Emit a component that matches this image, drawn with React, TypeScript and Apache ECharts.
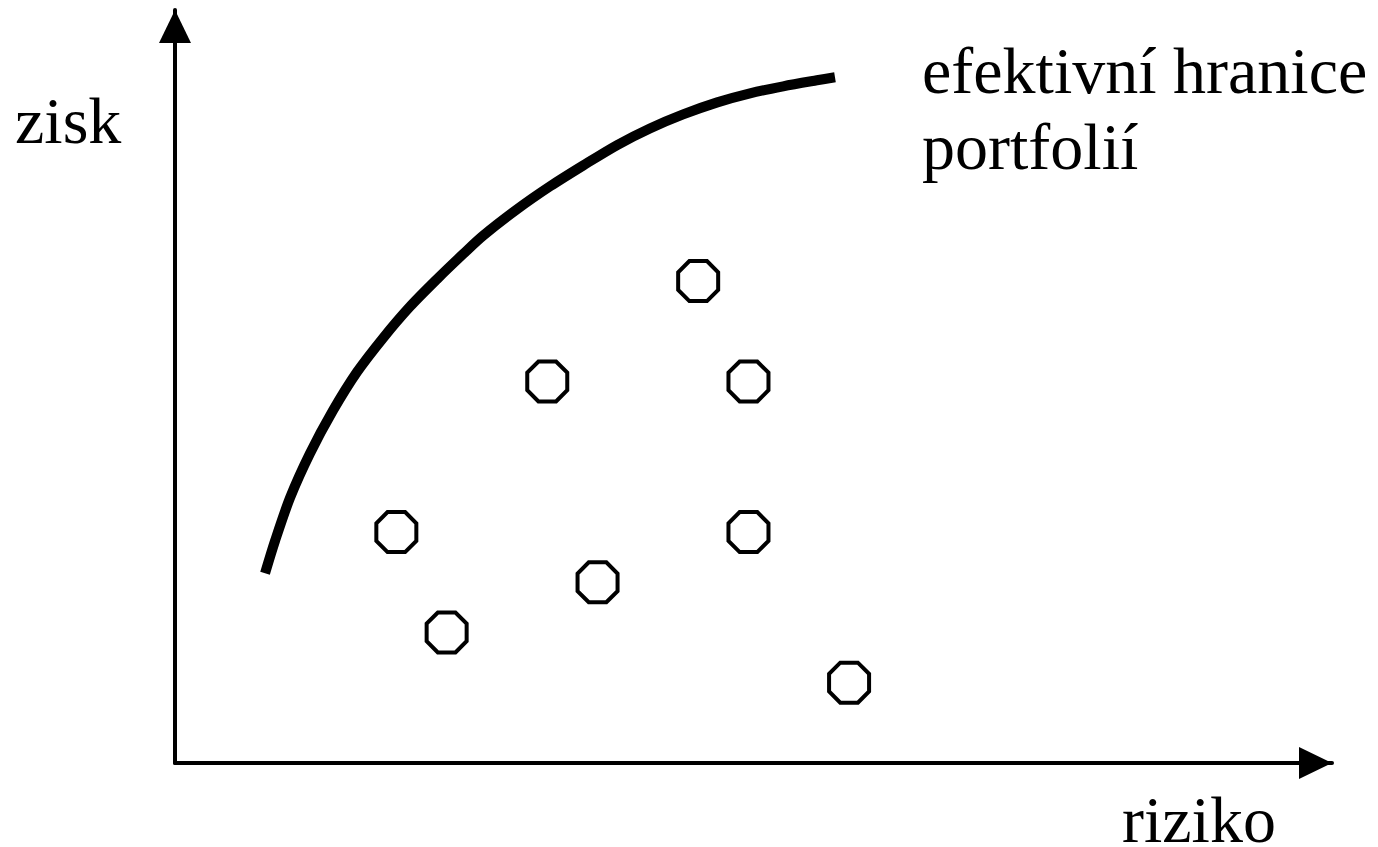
import React, { useEffect, useRef } from "react";
import * as echarts from "echarts";

// Efficient frontier curve (riziko, zisk) in chart units
const frontierRisk = [1.79, 1.99, 2.29, 2.68, 3.14, 3.62, 4.14, 4.67, 5.21, 5.73, 6.12, 6.80, 7.46, 8.11, 8.79, 9.44, 10.10, 10.78, 11.43, 12.09, 12.76, 13.12];
const frontierReturn = [3.78, 4.43, 5.29, 6.16, 7.02, 7.79, 8.47, 9.09, 9.64, 10.14, 10.50, 11.03, 11.49, 11.90, 12.31, 12.64, 12.92, 13.16, 13.34, 13.48, 13.60, 13.66];

// Individual portfolios
const portfolioRisk = [4.4, 5.4, 7.4, 8.4, 10.4, 11.4, 11.4, 13.4];
const portfolioReturn = [4.6, 2.6, 7.6, 3.6, 9.6, 7.6, 4.6, 1.6];

// Axis ranges
const riskMax = 23;
const returnMax = 15;

// Texts
const yLabel = "zisk";
const xLabel = "riziko";
const frontierLabel = ["efektivní hranice", "portfolií"];

const OCTAGON = "path://M28 0L72 0L100 28L100 72L72 100L28 100L0 72L0 28Z";
const FONT = "'Liberation Serif', 'Times New Roman', serif";

export default function App() {
  const ref = useRef<HTMLDivElement>(null);

  useEffect(() => {
    document.body.style.margin = "0";
    if (!ref.current) return;
    const chart = echarts.init(ref.current, null, { renderer: "svg" });

    const axisCommon = {
      type: "value" as const,
      axisLine: {
        show: true,
        onZero: false,
        symbol: ["none", "triangle"],
        symbolSize: [32, 33],
        symbolOffset: [0, -16.5],
        lineStyle: { color: "#000", width: 4 },
      },
      axisTick: { show: false },
      axisLabel: { show: false },
      splitLine: { show: false },
    };

    const textEl = (text: string, x: number, y: number) => ({
      type: "text",
      x,
      y,
      style: {
        text,
        fill: "#000",
        fontSize: 66,
        lineHeight: 50,
        fontFamily: FONT,
        align: "left",
        verticalAlign: "middle",
      },
    });

    chart.setOption({
      animation: false,
      backgroundColor: "#fff",
      grid: { left: 175, top: 10, right: 46, bottom: 84, outerBoundsMode: "none" },
      xAxis: { ...axisCommon, min: 0, max: riskMax },
      yAxis: { ...axisCommon, min: 0, max: returnMax },
      series: [
        {
          type: "line",
          data: frontierRisk.map((x, i) => [x, frontierReturn[i]]),
          symbol: "none",
          smooth: 0.3,
          lineStyle: { color: "#000", width: 10, cap: "butt", join: "round" },
          z: 2,
        },
        {
          type: "scatter",
          data: portfolioRisk.map((x, i) => [x, portfolioReturn[i]]),
          symbol: OCTAGON,
          symbolSize: 40,
          itemStyle: { color: "#fff", borderColor: "#000", borderWidth: 4, opacity: 1 },
          z: 3,
        },
      ],
      graphic: [
        textEl(yLabel, 15, 120),
        textEl(frontierLabel[0], 922, 70),
        textEl(frontierLabel[1], 922, 146),
        textEl(xLabel, 1122, 819),
      ],
    });

    return () => chart.dispose();
  }, []);

  return <div ref={ref} style={{ width: 1378, height: 847 }} />;
}
